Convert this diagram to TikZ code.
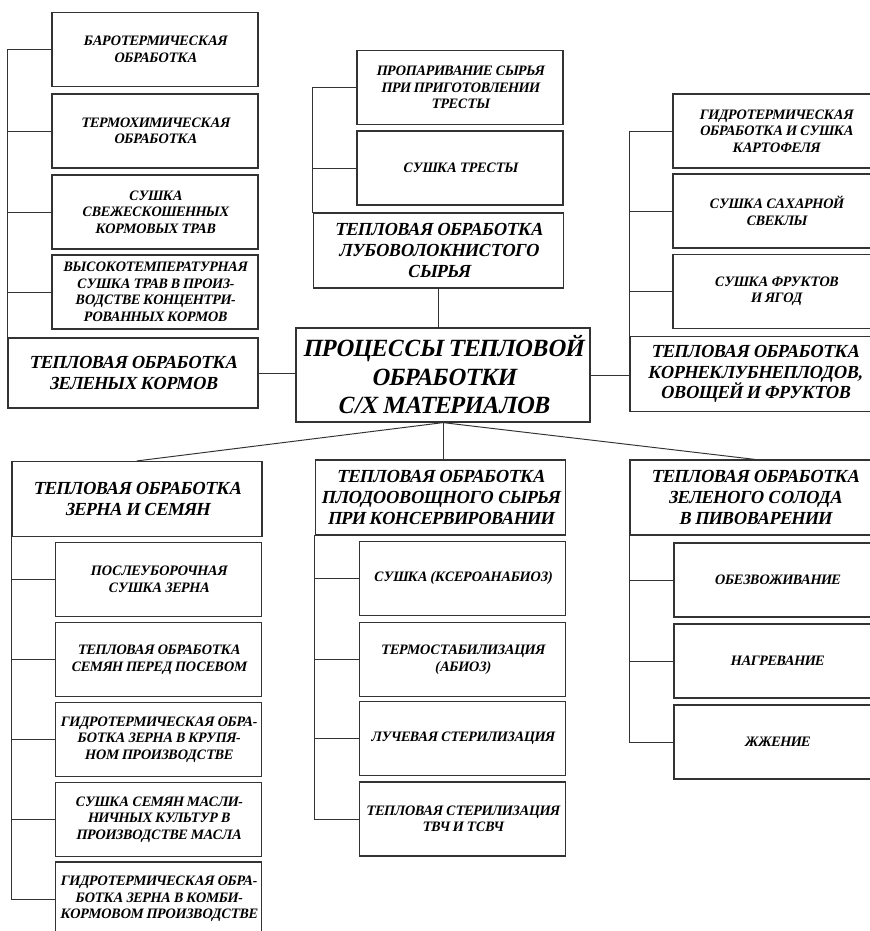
\documentclass[tikz,border=0pt]{standalone}
\usepackage{fontspec}
\setmainfont{Liberation Serif}
\newfontfamily\bifont{Liberation Serif}[FakeSlant=0.2,FakeStretch=0.93]
\begin{document}
\begin{tikzpicture}[x=0.02cm,y=-0.02cm,line cap=round,
  box/.style={draw=black!80,line width=0.7pt,align=center,inner sep=1pt,font=\bifont\bfseries\fontsize{8.2}{9.4}\selectfont},
  sub/.style={box,minimum width=4.12cm,minimum height=1.48cm},
  head/.style={box,minimum width=5cm,minimum height=1.5cm,font=\bifont\bfseries\fontsize{10.5}{11.7}\selectfont},
  link/.style={draw=black!80,line width=0.55pt}]
\useasboundingbox (0,0) rectangle (870,931);
\node[head,minimum width=5.88cm,minimum height=1.88cm,font=\bifont\bfseries\fontsize{14.1}{16.2}\selectfont] (main) at (443,375) {ПРОЦЕССЫ ТЕПЛОВОЙ\\ОБРАБОТКИ\\С/Х МАТЕРИАЛОВ};
\node[sub] (gfa) at (155,49.5) {БАРОТЕРМИЧЕСКАЯ\\ОБРАБОТКА};
\node[sub] (gfb) at (155,131) {ТЕРМОХИМИЧЕСКАЯ\\ОБРАБОТКА};
\node[sub] (gfc) at (155,212) {СУШКА\\СВЕЖЕСКОШЕННЫХ\\КОРМОВЫХ ТРАВ};
\node[sub] (gfd) at (155,292) {ВЫСОКОТЕМПЕРАТУРНАЯ\\СУШКА ТРАВ В ПРОИЗ-\\ВОДСТВЕ КОНЦЕНТРИ-\\РОВАННЫХ КОРМОВ};
\node[head,minimum height=1.4cm] (green) at (133,373) {ТЕПЛОВАЯ ОБРАБОТКА\\ЗЕЛЕНЫХ КОРМОВ};
\node[sub] (basta) at (460,87.5) {ПРОПАРИВАНИЕ СЫРЬЯ\\ПРИ ПРИГОТОВЛЕНИИ\\ТРЕСТЫ};
\node[sub] (bastb) at (460,168) {СУШКА ТРЕСТЫ};
\node[head] (bast) at (438.5,250.5) {ТЕПЛОВАЯ ОБРАБОТКА\\ЛУБОВОЛОКНИСТОГО\\СЫРЬЯ};
\node[sub] (roota) at (776,131) {ГИДРОТЕРМИЧЕСКАЯ\\ОБРАБОТКА И СУШКА\\КАРТОФЕЛЯ};
\node[sub] (rootb) at (776,211) {СУШКА САХАРНОЙ\\СВЕКЛЫ};
\node[sub] (rootc) at (776,291.5) {СУШКА ФРУКТОВ\\И ЯГОД};
\node[head] (root) at (755,374) {ТЕПЛОВАЯ ОБРАБОТКА\\КОРНЕКЛУБНЕПЛОДОВ,\\ОВОЩЕЙ И ФРУКТОВ};
\node[head] (grain) at (137,499) {ТЕПЛОВАЯ ОБРАБОТКА\\ЗЕРНА И СЕМЯН};
\node[sub] (graina) at (158.5,579.5) {ПОСЛЕУБОРОЧНАЯ\\СУШКА ЗЕРНА};
\node[sub] (grainb) at (158.5,659.5) {ТЕПЛОВАЯ ОБРАБОТКА\\СЕМЯН ПЕРЕД ПОСЕВОМ};
\node[sub] (grainc) at (158.5,739.5) {ГИДРОТЕРМИЧЕСКАЯ ОБРА-\\БОТКА ЗЕРНА В КРУПЯ-\\НОМ ПРОИЗВОДСТВЕ};
\node[sub] (graind) at (158.5,819.5) {СУШКА СЕМЯН МАСЛИ-\\НИЧНЫХ КУЛЬТУР В\\ПРОИЗВОДСТВЕ МАСЛА};
\node[sub] (graine) at (158.5,899) {ГИДРОТЕРМИЧЕСКАЯ ОБРА-\\БОТКА ЗЕРНА В КОМБИ-\\КОРМОВОМ ПРОИЗВОДСТВЕ};
\node[head] (can) at (440.5,497.5) {ТЕПЛОВАЯ ОБРАБОТКА\\ПЛОДООВОЩНОГО СЫРЬЯ\\ПРИ КОНСЕРВИРОВАНИИ};
\node[sub] (cana) at (462.5,578.5) {СУШКА (КСЕРОАНАБИОЗ)};
\node[sub] (canb) at (462.5,659.5) {ТЕРМОСТАБИЛИЗАЦИЯ\\(АБИОЗ)};
\node[sub] (canc) at (462.5,738.5) {ЛУЧЕВАЯ СТЕРИЛИЗАЦИЯ};
\node[sub] (cand) at (462.5,819) {ТЕПЛОВАЯ СТЕРИЛИЗАЦИЯ\\ТВЧ И ТСВЧ};
\node[head] (malt) at (755,497.5) {ТЕПЛОВАЯ ОБРАБОТКА\\ЗЕЛЕНОГО СОЛОДА\\В ПИВОВАРЕНИИ};
\node[sub] (malta) at (777,580) {ОБЕЗВОЖИВАНИЕ};
\node[sub] (maltb) at (777,661) {НАГРЕВАНИЕ};
\node[sub] (maltc) at (777,742) {ЖЖЕНИЕ};
\foreach \s in {gfa,gfb,gfc,gfd} \draw[link] (green.north west) |- (\s.west);
\foreach \s in {basta,bastb} \draw[link] (bast.north west) |- (\s.west);
\foreach \s in {roota,rootb,rootc} \draw[link] (root.north west) |- (\s.west);
\foreach \s in {graina,grainb,grainc,graind,graine} \draw[link] (grain.south west) |- (\s.west);
\foreach \s in {cana,canb,canc,cand} \draw[link] (can.south west) |- (\s.west);
\foreach \s in {malta,maltb,maltc} \draw[link] (malt.south west) |- (\s.west);
\draw[link] (green.east) -- (green.east -| main.west);
\draw[link] (main.east) -- (main.east -| root.west);
\draw[link] (bast.south) -- (bast.south |- main.north);
\draw[link] (main.south) -- (grain.north);
\draw[link] (main.south) -- (main.south |- can.north);
\draw[link] (main.south) -- (malt.north);
\end{tikzpicture}
\end{document}
